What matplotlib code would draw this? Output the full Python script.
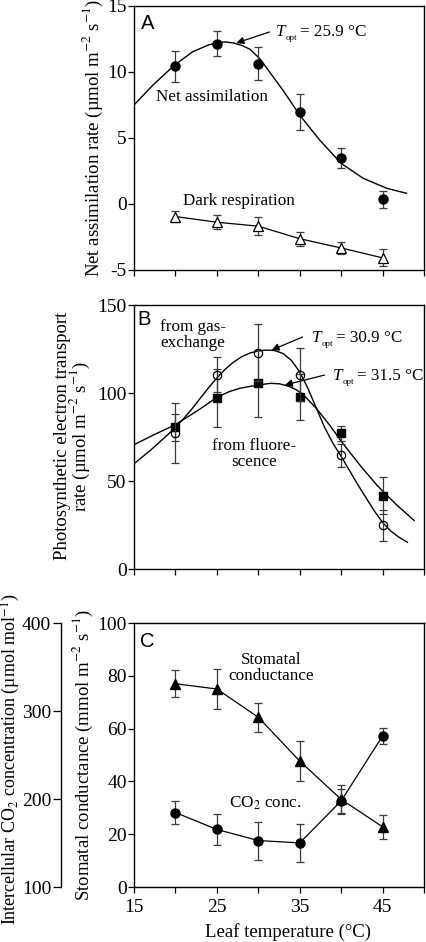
import matplotlib
matplotlib.use("Agg")
import matplotlib.pyplot as plt

plt.rcParams['font.family'] = ['Liberation Serif', 'DejaVu Serif']
plt.rcParams['mathtext.fontset'] = 'stix'
plt.rcParams['axes.unicode_minus'] = False

# ---------------- data ----------------
temps = [20, 25, 30, 35, 40, 45]

net_assim = [10.43, 12.15, 10.63, 6.97, 3.48, 0.36]
net_assim_err = [1.15, 0.95, 1.25, 1.35, 0.78, 0.65]
dark_resp = [-0.95, -1.38, -1.68, -2.63, -3.33, -4.08]
dark_resp_err = [0.45, 0.55, 0.67, 0.53, 0.44, 0.65]

# fitted curves
net_fit_t = [15, 17.3, 19.9, 22.1, 24.0, 25.0, 26.0, 27.0, 28.0, 29.0, 30.2,
             31.6, 33.0, 35.0, 37.4, 40.0, 42.65, 45.5, 47.9]
net_fit_v = [7.5, 9.02, 10.53, 11.54, 12.05, 12.22, 12.28, 12.2, 12.02, 11.72,
             11.0, 9.8, 8.6, 6.74, 4.85, 3.08, 1.95, 1.19, 0.81]

etr_gas = [77.5, 110.5, 123.0, 110.5, 64.5, 24.8]
etr_gas_err = [17, 10, 16, 15, 6.3, 8.8]
etr_fluo = [80.5, 97.4, 105.5, 97.8, 77.2, 41.6]
etr_fluo_err = [7.5, 16.5, 19, 13, 4.2, 10.4]

gas_fit_t = [15, 17, 19, 20, 21, 22, 23, 24, 25, 26, 27, 28, 29, 30, 31, 32,
             33, 34, 35, 36, 37, 38, 39, 40, 41, 42, 43, 44, 45, 46, 47, 48]
gas_fit_v = [59.8, 67.5, 76.0, 80.5, 85.5, 91.0, 97.0, 103.0, 108.5, 113.5,
             117.5, 120.6, 122.7, 123.9, 124.4, 124.1, 122.4, 118.5, 112.0,
             102.5, 91.5, 80.5, 71.5, 64.0, 56.0, 48.0, 40.5, 33.0, 26.5,
             21.5, 18.0, 15.2]
fluo_fit_t = [15, 17.5, 20, 21.5, 23, 25, 26.5, 27.8, 29.9, 31.5, 32.6, 33.8,
              34.6, 35.4, 37.0, 38.6, 40.2, 42.25, 44.3, 46.7, 48.8]
fluo_fit_v = [70.6, 76.5, 82.0, 86.5, 91.0, 97.5, 100.8, 102.7, 104.5, 105.5,
              105.2, 103.6, 101.8, 99.2, 91.3, 81.8, 71.4, 59.1, 47.7, 36.4,
              27.6]

stomatal = [77.0, 75.0, 64.3, 47.7, 33.2, 22.8]
stomatal_err = [5.2, 7.6, 5.5, 7.6, 5.5, 4.5]
ci_conc = [184.6, 165.4, 152.8, 150.1, 197.8, 271.6]
ci_conc_err = [13.0, 17.4, 21.6, 21.3, 13.5, 9.6]

x_ticks = [15, 20, 25, 30, 35, 40, 45, 50]
x_ticklabels = ['15', '', '25', '', '35', '', '45', '']

# ---------------- figure ----------------
W, H = 427, 942
fig = plt.figure(figsize=(W / 100, H / 100), dpi=100)


def px_axes(left, top, right, bottom):
    return fig.add_axes([left / W, 1 - bottom / H, (right - left) / W, (bottom - top) / H])


ERR = dict(ecolor='#3a3a3a', elinewidth=0.9, capsize=3.0, capthick=0.9)
TICKFS = 14
TXT = 12.3
LAB = 13.5


def style(ax, ylim, yticks, show_xlabels):
    ax.set_xlim(15, 50)
    ax.set_ylim(*ylim)
    ax.set_yticks(yticks)
    ax.set_xticks(x_ticks)
    ax.set_xticklabels(x_ticklabels if show_xlabels else [''] * len(x_ticks))
    ax.tick_params(direction='out', length=4.5, width=0.9, labelsize=TICKFS, pad=0.8,
                   top=False, right=False)
    ax.tick_params(axis='x', pad=4)
    for s in ax.spines.values():
        s.set_linewidth(1.0)


def topt(ax, x, y, value):
    t1 = ax.text(x, y, 'T', fontsize=TXT, style='italic', ha='left', va='center')
    t2 = ax.annotate('opt', xy=(1, 0.12), xycoords=t1, xytext=(0.3, 0),
                     textcoords='offset points', fontsize=6.5, ha='left', va='center')
    ax.annotate('= %s °C' % value, xy=(1, 0.5), xycoords=(t2, t1), xytext=(2.0, 0),
                textcoords='offset points', fontsize=TXT, ha='left', va='center')


ARROW = dict(arrowstyle='-|>', lw=0.9, color='k', mutation_scale=11, shrinkA=0, shrinkB=0)

# ---------- Panel A ----------
axA = px_axes(134, 6, 424, 270)
style(axA, (-5, 15), [-5, 0, 5, 10, 15], False)
axA.plot(net_fit_t, net_fit_v, color='k', lw=1.0, zorder=2)
axA.errorbar(temps, net_assim, yerr=net_assim_err, fmt='o', color='k', ms=6.5,
             zorder=3, **ERR)
axA.errorbar(temps, dark_resp, yerr=dark_resp_err, fmt='^-', color='k', mfc='white',
             mec='k', ms=6.5, lw=0.9, mew=0.9, zorder=3, **ERR)
axA.text(15.85, 13.7, 'A', family='Liberation Sans', fontsize=14.5, ha='left', va='center')
axA.annotate('', xy=(27.35, 12.2), xytext=(31.35, 13.03), arrowprops=ARROW)
topt(axA, 32.1, 13.05, '25.9')
axA.text(24.45, 8.1, 'Net assimilation', fontsize=TXT, ha='center', va='center')
axA.text(27.7, 0.23, 'Dark respiration', fontsize=TXT, ha='center', va='center')

# ---------- Panel B ----------
axB = px_axes(134, 305, 424, 569)
style(axB, (0, 150), [0, 50, 100, 150], False)
axB.plot(gas_fit_t, gas_fit_v, color='k', lw=1.0, zorder=2)
axB.plot(fluo_fit_t, fluo_fit_v, color='k', lw=1.0, zorder=2)
axB.errorbar(temps, etr_fluo, yerr=etr_fluo_err, fmt='s', color='k', ms=5.8,
             zorder=3, **ERR)
axB.errorbar(temps, etr_gas, yerr=etr_gas_err, fmt='o', color='k', mfc='none',
             mec='k', ms=6.0, mew=0.9, zorder=4, **ERR)
axB.text(15.36, 141.5, 'B', family='Liberation Sans', fontsize=14.5, ha='left', va='center')
axB.text(22.1, 132.7, 'from gas-\nexchange', fontsize=TXT, ha='center', va='center',
         linespacing=1.0)
axB.text(29.5, 65.1, 'from fluore-\nscence', fontsize=TXT, ha='center', va='center',
         linespacing=1.0)
axB.annotate('', xy=(31.6, 124.4), xytext=(35.35, 131.8), arrowprops=ARROW)
topt(axB, 36.45, 131.25, '30.9')
axB.annotate('', xy=(33.2, 104.5), xytext=(38.0, 110.2), arrowprops=ARROW)
topt(axB, 39.0, 109.7, '31.5')

# ---------- Panel C ----------
axC = px_axes(134, 623, 424, 887)
style(axC, (0, 100), [0, 20, 40, 60, 80, 100], True)
axC.errorbar(temps, stomatal, yerr=stomatal_err, fmt='^-', color='k', ms=7, lw=0.9,
             zorder=3, **ERR)
axCi = axC.twinx()
axCi.set_ylim(100, 400)
axCi.axis('off')
axCi.errorbar(temps, ci_conc, yerr=ci_conc_err, fmt='o-', color='k', ms=6.5, lw=0.9,
              zorder=3, **ERR)
axC.text(15.7, 92.9, 'C', family='Liberation Sans', fontsize=14.5, ha='left', va='center')
axC.text(31.5, 83, 'Stomatal\nconductance', fontsize=TXT, ha='center', va='center',
         linespacing=1.05)
axC.text(30.9, 31.8, r'CO$_2$ conc.', fontsize=TXT, ha='center', va='center')

# secondary (Ci) axis spine on the far left
axS = px_axes(61, 623, 62, 887)
axS.set_ylim(100, 400)
axS.set_yticks([100, 200, 300, 400])
axS.set_xticks([])
for k in ('top', 'right', 'bottom'):
    axS.spines[k].set_visible(False)
axS.spines['left'].set_linewidth(1.0)
axS.patch.set_visible(False)
axS.tick_params(direction='out', length=5.5, width=0.9, labelsize=14, pad=1.5)


# ---------- axis labels ----------
def ftext(x, y, s, **kw):
    fig.text(x / W, 1 - y / H, s, **kw)


ftext(93, 138, r'Net assimilation rate (µmol m$^{-2}$ s$^{-1}$)', rotation=90,
      ha='center', va='center', fontsize=LAB)
ftext(73, 436, 'Photosynthetic electron transport\n' + r'rate (µmol m$^{-2}$ s$^{-1}$)',
      rotation=90, ha='center', va='center', fontsize=LAB, linespacing=0.88)
ftext(83, 755, r'Stomatal conductance (mmol m$^{-2}$ s$^{-1}$)', rotation=90,
      ha='center', va='center', fontsize=LAB)
ftext(11, 759, r'Intercellular CO$_2$ concentration (µmol mol$^{-1}$)', rotation=90,
      ha='center', va='center', fontsize=13)
ftext(288, 932, 'Leaf temperature (°C)', ha='center', va='center', fontsize=LAB)

fig.savefig('out.png', dpi=100)
